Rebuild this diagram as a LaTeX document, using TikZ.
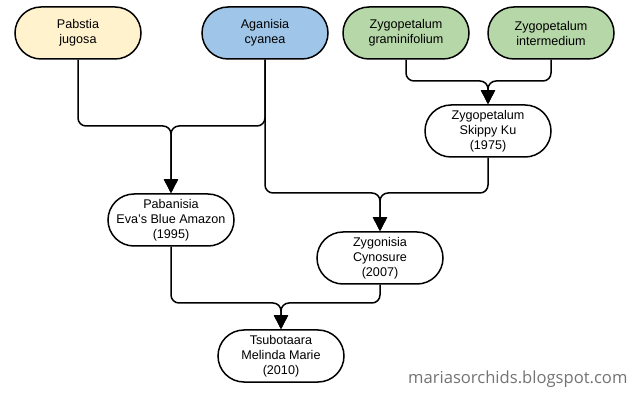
\documentclass[tikz,border=0pt]{standalone}
\usepackage{fontspec}
\setmainfont{Liberation Sans}
\newfontfamily\blogfont{Open Sans}
\usetikzlibrary{arrows.meta}
\definecolor{yel}{HTML}{FFF2CC}
\definecolor{blu}{HTML}{9FC5E8}
\definecolor{grn}{HTML}{B6D7A8}
\tikzset{
  orchid/.style={draw=black,line width=1.5pt,rounded corners=26pt,minimum width=126pt,
    minimum height=52pt,align=center,inner sep=0pt,
    font=\fontsize{12.6}{15}\selectfont},
  cross/.style={line width=1.5pt,rounded corners=8pt,-{Triangle[width=14pt,length=14pt]}}
}
\begin{document}
\begin{tikzpicture}[x=1pt,y=-1pt]
\useasboundingbox (0,0) rectangle (640,403);
\node[orchid,fill=yel] (PJ) at (78,33) {Pabstia\\jugosa};
\node[orchid,fill=blu] (AC) at (265,33) {Aganisia\\cyanea};
\node[orchid,fill=grn] (ZG) at (406,33) {Zygopetalum\\graminifolium};
\node[orchid,fill=grn] (ZI) at (551,33) {Zygopetalum\\intermedium};
\node[orchid,fill=white] (SK) at (488,131) {Zygopetalum\\Skippy Ku\\(1975)};
\node[orchid,fill=white] (EB) at (171,220) {Pabanisia\\Eva's Blue Amazon\\(1995)};
\node[orchid,fill=white] (ZC) at (380,258) {Zygonisia\\Cynosure\\(2007)};
\node[orchid,fill=white] (MM) at (281,356) {Tsubotaara\\Melinda Marie\\(2010)};
\node[font=\blogfont\fontsize{16.6}{19}\selectfont,text=black!55,anchor=east] (blog) at (631,379) {mariasorchids.blogspot.com};
% junctions
\coordinate (j1) at (171,126);
\coordinate (j2) at (380,193);
\coordinate (j3) at (488,81);
\coordinate (j4) at (281,303);
\draw[cross] (PJ.south) |- (j1) -- (EB.north);
\draw[cross] (AC.south) |- (j1) -- (EB.north);
\draw[cross] (AC.south) |- (j2) -- (ZC.north);
\draw[cross] (SK.south) |- (j2) -- (ZC.north);
\draw[cross] (ZG.south) |- (j3) -- (SK.north);
\draw[cross] (ZI.south) |- (j3) -- (SK.north);
\draw[cross] (EB.south) |- (j4) -- (MM.north);
\draw[cross] (ZC.south) |- (j4) -- (MM.north);
\end{tikzpicture}
\end{document}
